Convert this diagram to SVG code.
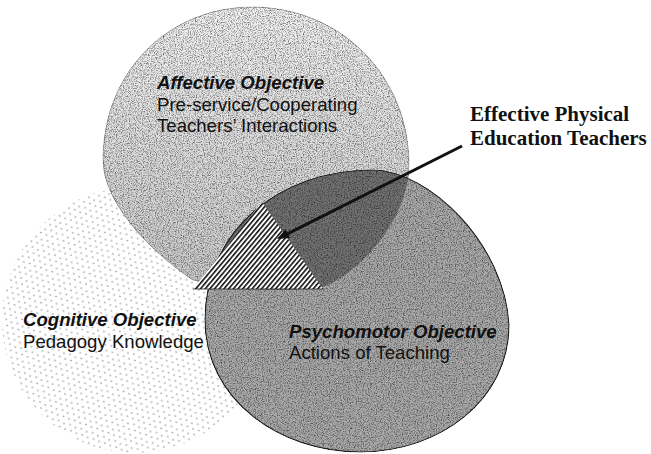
<svg xmlns="http://www.w3.org/2000/svg" width="651" height="454" viewBox="0 0 651 454">
<defs>
<style>
.lbl{font-family:"Liberation Sans",Arial,sans-serif;font-size:18.6px;fill:#111}
.ttl{font-weight:bold;font-style:italic}
.ser{font-family:"Liberation Serif","Times New Roman",serif;font-size:21px;font-weight:bold;fill:#111}
.arrow{stroke:#111;stroke-width:3;fill:none}
.grain{filter:url(#grain)}
</style>
<filter id="grain" color-interpolation-filters="sRGB" x="-0.03" y="-0.03" width="1.06" height="1.06">
<feTurbulence type="fractalNoise" baseFrequency="0.85" numOctaves="2" seed="4" result="n"/>
<feColorMatrix in="n" type="matrix" values="1.4 0 0 0 0.2  1.4 0 0 0 0.2  1.4 0 0 0 0.2  0 0 0 0 1" result="g"/>
<feBlend in="SourceGraphic" in2="g" mode="multiply" result="m"/>
<feComposite in="m" in2="SourceAlpha" operator="in"/>
</filter>
<linearGradient id="gTop" x1="0" y1="0" x2="0" y2="1">
<stop offset="0" stop-color="#f2f2f2"/>
<stop offset="1" stop-color="#c8c8c8"/>
</linearGradient>
<pattern id="dots" width="12" height="11" patternUnits="userSpaceOnUse" patternTransform="rotate(20)">
<g fill="#6e6e6e">
<circle cx="1" cy="2" r="0.7"/>
<circle cx="7" cy="1" r="0.7"/>
<circle cx="4" cy="7" r="0.7"/>
<circle cx="10" cy="6.5" r="0.7"/>
</g>
</pattern>
<pattern id="hatch" width="3.6" height="10" patternUnits="userSpaceOnUse" patternTransform="rotate(40)">
<rect width="3.6" height="10" fill="#fff"/>
<rect width="1.6" height="10" fill="#111"/>
</pattern>
<clipPath id="clipTop">
<path d="M103,160 C103,70 170,7 252,7 C340,7 409,75 409,165 C409,215 365,270 323,287 C280,292 230,290 193,280 C155,255 103,205 103,160 Z"/>
</clipPath>
<marker id="ah" viewBox="0 0 12 10" refX="6" refY="5" markerWidth="12" markerHeight="10" markerUnits="userSpaceOnUse" orient="auto">
<path d="M0,0 L12,5 L0,10 Z" fill="#111"/>
</marker>
</defs>

<rect width="651" height="454" fill="#fff"/>

<g id="node-cognitive">
<circle cx="135" cy="320" r="133" fill="#fff"/>
<circle cx="135" cy="320" r="133" fill="url(#dots)"/>
</g>

<g id="node-affective">
<path class="grain" d="M103,160 C103,70 170,7 252,7 C340,7 409,75 409,165 C409,215 365,270 323,287 C280,292 230,290 193,280 C155,255 103,205 103,160 Z" fill="url(#gTop)" stroke="#777" stroke-width="0.8"/>
</g>

<g id="node-psychomotor">
<path class="grain" d="M205,320 C205,230 280,170 372,170 C430,170 505,245 509,325 C509,400 440,452 360,452 C280,452 205,400 205,320 Z" fill="#aaaaaa" stroke="#222" stroke-width="1.2"/>
</g>

<g id="overlap">
<g clip-path="url(#clipTop)">
<path class="grain" d="M205,320 C205,230 280,170 372,170 C430,170 505,245 509,325 C509,400 440,452 360,452 C280,452 205,400 205,320 Z" fill="#727272" stroke="#222" stroke-width="1.2"/>
</g>
</g>

<g id="node-center">
<polygon points="262,202 193,289 323,289" fill="url(#hatch)"/>
<line x1="193" y1="289" x2="323" y2="289" stroke="#222" stroke-width="0.8"/>
</g>

<g id="labels-affective">
<text class="lbl ttl" x="157" y="89">Affective Objective</text>
<text class="lbl" x="157" y="111">Pre-service/Cooperating</text>
<text class="lbl" x="157" y="132">Teachers’ Interactions</text>
</g>

<g id="labels-cognitive">
<text class="lbl ttl" x="23" y="326">Cognitive Objective</text>
<text class="lbl" x="23" y="348">Pedagogy Knowledge</text>
</g>

<g id="labels-psychomotor">
<text class="lbl ttl" x="289" y="338">Psychomotor Objective</text>
<text class="lbl" x="289" y="359">Actions of Teaching</text>
</g>

<g id="node-effective-label">
<text class="ser" x="470" y="121">Effective Physical</text>
<text class="ser" x="470" y="145">Education Teachers</text>
</g>

<g id="connectors">
<line class="arrow" x1="462" y1="146" x2="282.4" y2="236.3" marker-end="url(#ah)"/>
</g>
</svg>
